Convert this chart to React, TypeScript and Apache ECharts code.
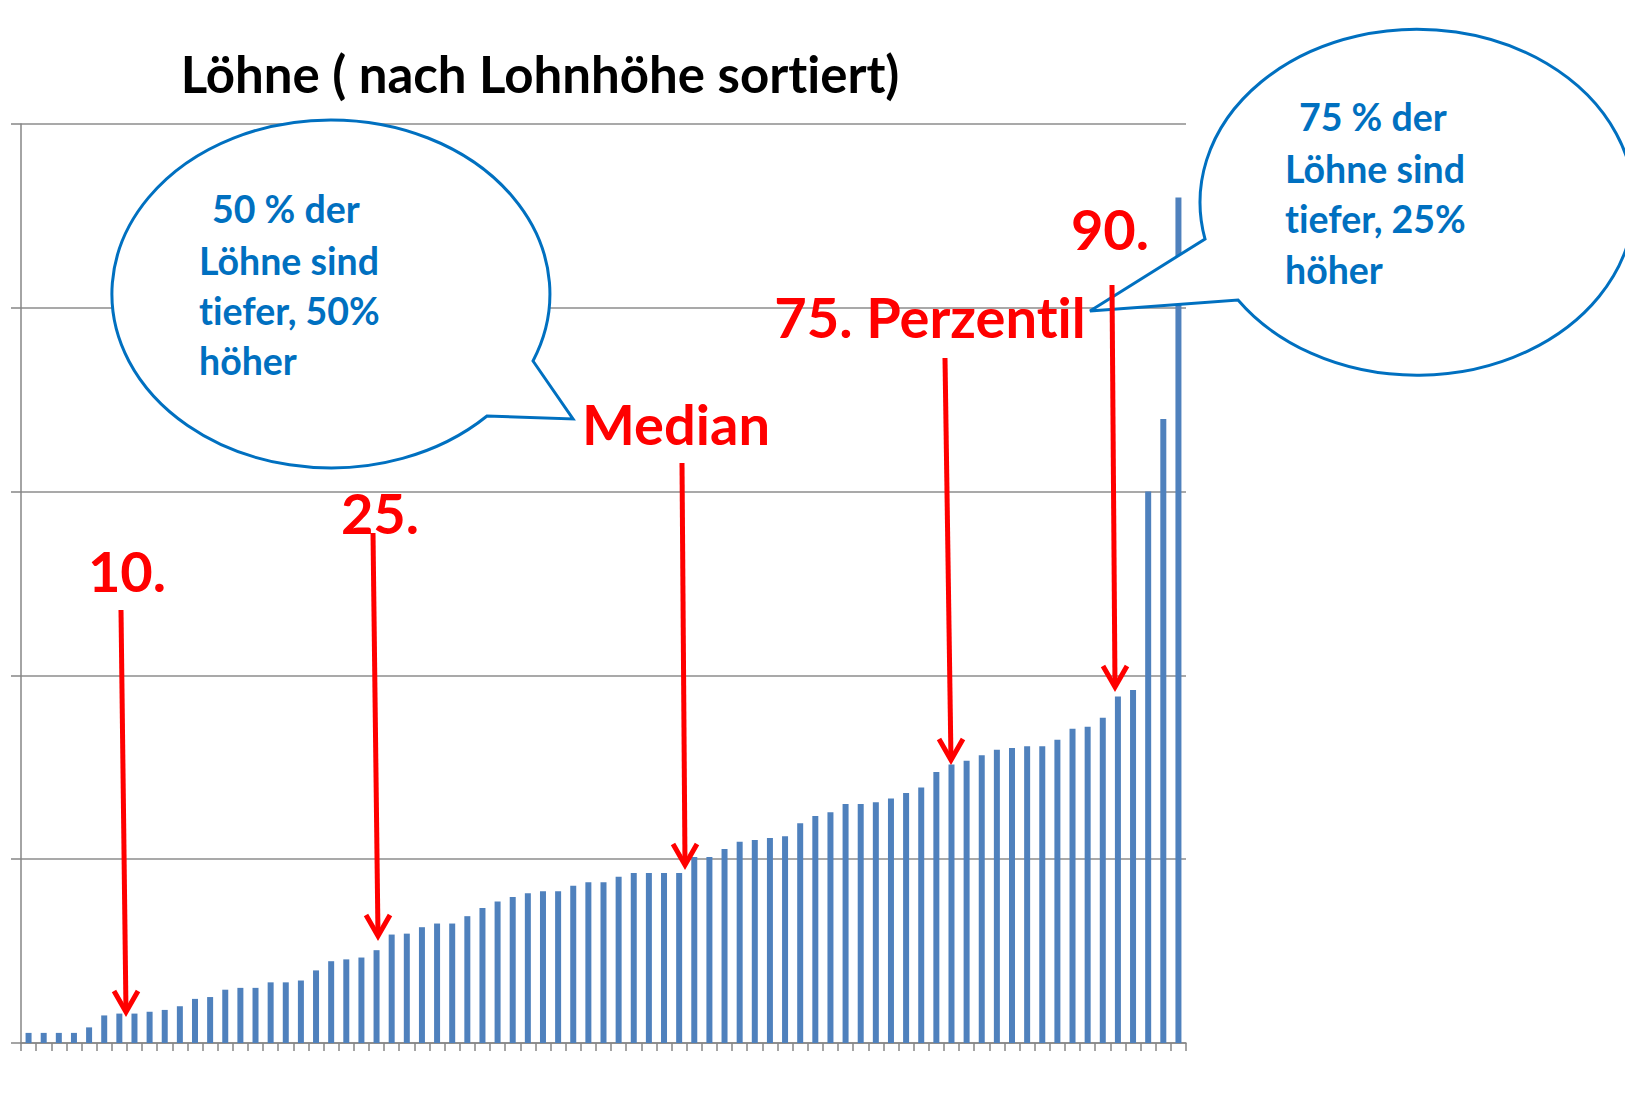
import React, { useEffect, useRef } from "react";
import * as echarts from "echarts";

// Sorted wages (arbitrary units, axis 0..100, unlabeled in original)
const wages: number[] = [
  1.1, 1.1, 1.1, 1.1, 1.7, 3.0, 3.2, 3.2, 3.4, 3.6,
  4.0, 4.8, 5.0, 5.8, 6.0, 6.0, 6.6, 6.6, 6.8, 7.9,
  8.9, 9.1, 9.3, 10.1, 11.8, 11.9, 12.6, 13.0, 13.0, 13.8,
  14.7, 15.4, 15.9, 16.3, 16.5, 16.5, 17.1, 17.5, 17.5, 18.1,
  18.5, 18.5, 18.5, 18.5, 20.25, 20.25, 21.1, 21.9, 22.1, 22.3,
  22.5, 23.9, 24.7, 25.1, 26.0, 26.0, 26.2, 26.6, 27.2, 27.8,
  29.5, 30.3, 30.7, 31.3, 31.9, 32.1, 32.3, 32.3, 33.0, 34.2,
  34.4, 35.4, 37.7, 38.4, 60.0, 67.9, 92.0,
];
const ranks: string[] = wages.map((_, i) => String(i + 1));
const yMin = 0;
const yMax = 100;
const yInterval = 20;

const titleText = "Löhne ( nach Lohnhöhe sortiert)";
const percentileLabels = ["10.", "25.", "Median", "75. Perzentil", "90."];
const leftBubbleLines = ["50 % der", "Löhne sind", "tiefer, 50%", "höher"];
const rightBubbleLines = ["75 % der", "Löhne sind", "tiefer, 25%", "höher"];

// Speech bubble outlines (ellipse with a tail)
echarts.graphic.registerShape(
  "bubbleLeft",
  echarts.graphic.extendPath(
    "M 487 416 A 219 174 0 1 1 533 361 L 573 419 Z",
    {}
  )
);
echarts.graphic.registerShape(
  "bubbleRight",
  echarts.graphic.extendPath(
    "M 1238 300 A 217 173 0 1 0 1205 239 L 1090 311 Z",
    {}
  )
);

const RED = "#FF0000";
const BLUE = "#0070C0";
const FONT = "Lato, 'Noto Sans', sans-serif";

export default function App() {
  const ref = useRef<HTMLDivElement>(null);

  useEffect(() => {
    if (!ref.current) return;
    const chart = echarts.init(ref.current, undefined, { renderer: "svg" });

    const labelPos = [
      [127, 570],
      [380, 512],
      [676, 423],
      [930, 316],
      [1110, 228],
    ];
    const arrows = [
      [121, 610, 126, 1012],
      [373, 533, 378, 936],
      [682, 463, 685, 865],
      [945, 358, 951, 760],
      [1112, 285, 1115, 687],
    ];

    const graphics: any[] = [];
    graphics.push({
      type: "bubbleLeft",
      z: 100,
      shape: {},
      style: { fill: "#ffffff", stroke: BLUE, lineWidth: 3 },
    });
    graphics.push({
      type: "bubbleRight",
      z: 100,
      shape: {},
      style: { fill: "#ffffff", stroke: BLUE, lineWidth: 3 },
    });
    arrows.forEach((a) => {
      graphics.push({
        type: "line",
        z: 101,
        shape: { x1: a[0], y1: a[1], x2: a[2], y2: a[3] },
        style: { stroke: RED, lineWidth: 5 },
      });
      graphics.push({
        type: "polyline",
        z: 101,
        shape: {
          points: [
            [a[2] - 12, a[3] - 21],
            [a[2], a[3]],
            [a[2] + 12, a[3] - 21],
          ],
        },
        style: { stroke: RED, lineWidth: 5, fill: null, lineJoin: "miter" },
      });
    });
    percentileLabels.forEach((t, i) => {
      graphics.push({
        type: "text",
        z: 102,
        x: labelPos[i][0],
        y: labelPos[i][1],
        style: {
          text: t,
          fill: RED,
          font: `bold 56px ${FONT}`,
          align: "center",
          verticalAlign: "middle",
        },
      });
    });
    const leftX = [212, 199, 199, 199];
    const leftY = [208, 260, 310, 360];
    leftBubbleLines.forEach((t, i) => {
      graphics.push({
        type: "text",
        z: 102,
        x: leftX[i],
        y: leftY[i],
        style: {
          text: t,
          fill: BLUE,
          font: `bold 37.5px ${FONT}`,
          align: "left",
          verticalAlign: "middle",
        },
      });
    });
    const rightX = [1299, 1285, 1285, 1285];
    const rightY = [116, 168, 218, 269];
    rightBubbleLines.forEach((t, i) => {
      graphics.push({
        type: "text",
        z: 102,
        x: rightX[i],
        y: rightY[i],
        style: {
          text: t,
          fill: BLUE,
          font: `bold 37.5px ${FONT}`,
          align: "left",
          verticalAlign: "middle",
        },
      });
    });
    graphics.push({
      type: "text",
      z: 102,
      x: 540,
      y: 73,
      style: {
        text: titleText,
        fill: "#000000",
        font: `bold 51px ${FONT}`,
        align: "center",
        verticalAlign: "middle",
      },
    });

    chart.setOption({
      animation: false,
      backgroundColor: "#ffffff",
      grid: { left: 21, right: 439, top: 124, bottom: 50, containLabel: false },
      xAxis: {
        type: "category",
        data: ranks,
        boundaryGap: true,
        axisLine: { show: true, lineStyle: { color: "#868686", width: 1.5 } },
        axisTick: {
          show: true,
          interval: 0,
          length: 8,
          lineStyle: { color: "#868686", width: 1.5 },
        },
        axisLabel: { show: false },
        splitLine: { show: false },
      },
      yAxis: {
        type: "value",
        min: yMin,
        max: yMax,
        interval: yInterval,
        axisLine: { show: true, lineStyle: { color: "#868686", width: 1.5 } },
        axisTick: {
          show: true,
          length: 10,
          lineStyle: { color: "#868686", width: 1.5 },
        },
        axisLabel: { show: false },
        splitLine: { show: true, lineStyle: { color: "#8c8c8c", width: 1.5 } },
      },
      series: [
        {
          type: "bar",
          data: wages,
          barWidth: 6,
          itemStyle: { color: "#4F81BD" },
        },
      ],
      graphic: graphics,
    });

    return () => {
      chart.dispose();
    };
  }, []);

  return (
    <>
      <style>{"svg text, svg tspan { font-variant-ligatures: none !important; font-feature-settings: 'liga' 0, 'clig' 0, 'dlig' 0 !important; }"}</style>
      <div
        ref={ref}
        style={{
          position: "absolute",
          left: 0,
          top: 0,
          width: 1625,
          height: 1093,
          background: "#ffffff",
        }}
      />
    </>
  );
}
